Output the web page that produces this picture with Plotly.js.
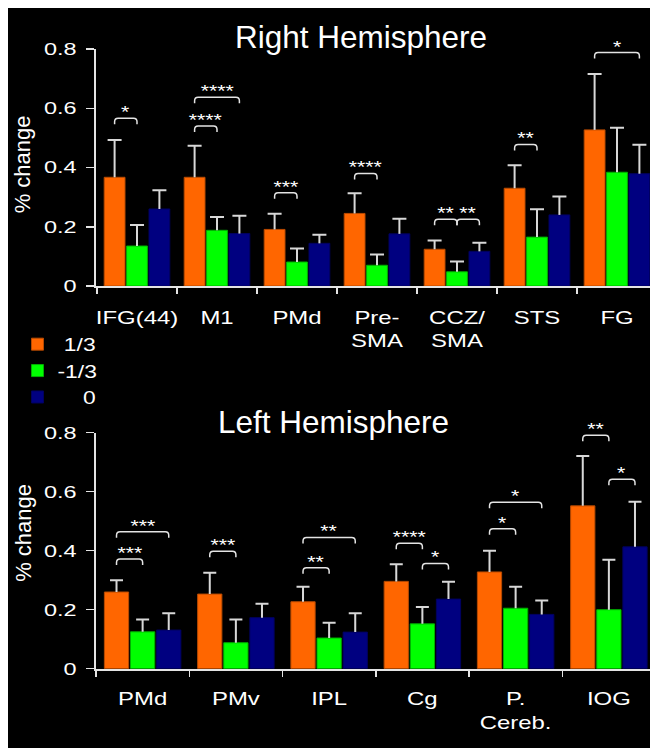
<!DOCTYPE html>
<html>
<head>
<meta charset="utf-8">
<script src="https://cdn.plot.ly/plotly-3.0.1.min.js"></script>
<style>
  html, body { margin: 0; padding: 0; background: #ffffff; }
  #plot { position: absolute; left: 8px; top: 8px; width: 642px; height: 740px; }
</style>
</head>
<body>
<div id="plot"></div>
<script>
// ---------------- data ----------------
const seriesNames = ['\u20081/3', '-1/3', '\u2007\u2008\u20080'];
const seriesColors = ['#ff6600', '#00ff00', '#000080'];
const seriesLines = ['#b84a00', '#00b000', '#000060'];

// Right hemisphere
const rightRegions = ['IFG(44)', 'M1', 'PMd', 'Pre-<br>SMA', 'CCZ/<br>SMA', 'STS', 'FG'];
const rightPos  = [0.367, 0.367, 0.191, 0.245, 0.124, 0.330, 0.527];
const rightNeg  = [0.135, 0.188, 0.081, 0.070, 0.048, 0.165, 0.384];
const rightZero = [0.260, 0.177, 0.144, 0.176, 0.117, 0.240, 0.379];
const rightPosSem  = [0.126, 0.106, 0.053, 0.068, 0.030, 0.078, 0.189];
const rightNegSem  = [0.071, 0.045, 0.046, 0.036, 0.035, 0.094, 0.150];
const rightZeroSem = [0.063, 0.060, 0.029, 0.051, 0.029, 0.062, 0.098];
// significance: [region index, from series, to series, bracket height, label]
const rightSig = [
  [0, 0, 1, 0.566, '*'],
  [1, 0, 1, 0.540, '****'],
  [1, 0, 2, 0.637, '****'],
  [2, 0, 1, 0.315, '***'],
  [3, 0, 1, 0.380, '****'],
  [4, 0, 1, 0.225, '**'],
  [4, 1, 2, 0.225, '**'],
  [5, 0, 1, 0.478, '**'],
  [6, 0, 2, 0.788, '*']
];

// Left hemisphere
const leftRegions = ['PMd', 'PMv', 'IPL', 'Cg', 'P.<br>Cereb.', 'IOG'];
const leftPos  = [0.260, 0.253, 0.227, 0.296, 0.328, 0.552];
const leftNeg  = [0.125, 0.088, 0.104, 0.152, 0.205, 0.200];
const leftZero = [0.131, 0.173, 0.124, 0.236, 0.184, 0.413];
const leftPosSem  = [0.040, 0.072, 0.051, 0.058, 0.072, 0.169];
const leftNegSem  = [0.042, 0.079, 0.052, 0.057, 0.073, 0.169];
const leftZeroSem = [0.057, 0.047, 0.064, 0.059, 0.047, 0.153];
const leftSig = [
  [0, 0, 1, 0.372, '***'],
  [0, 0, 2, 0.464, '***'],
  [1, 0, 1, 0.398, '***'],
  [2, 0, 1, 0.342, '**'],
  [2, 0, 2, 0.445, '**'],
  [3, 0, 1, 0.425, '****'],
  [3, 1, 2, 0.357, '*'],
  [4, 0, 1, 0.474, '*'],
  [4, 0, 2, 0.564, '*'],
  [5, 0, 1, 0.791, '**'],
  [5, 1, 2, 0.642, '*']
];

const yTicks = [0, 0.2, 0.4, 0.6, 0.8];
const yTickText = ['0', '0.2', '0.4', '0.6', '0.8'];

// ---------------- build ----------------
const slotCenter = [-0.28, 0, 0.28];
const barW = 0.26;
const axisCol = '#e4e4e4';
const whiskCol = '#d8d8d8';

const traces = [];
function addPanel(regions, means, sems, xa, ya, whiskW, capW, legend) {
  const xs = regions.map((_, i) => i);
  means.forEach((m, s) => {
    traces.push({
      type: 'bar', x: xs, y: m, name: seriesNames[s],
      xaxis: xa, yaxis: ya,
      width: barW, offset: slotCenter[s] - barW / 2,
      marker: { color: seriesColors[s], line: { color: seriesLines[s], width: 1 } },
      showlegend: legend, legendgroup: 'g' + s, hoverinfo: 'skip'
    });
  });
  means.forEach((m, s) => {
    traces.push({
      type: 'bar', x: xs, y: sems[s], base: m,
      xaxis: xa, yaxis: ya,
      width: whiskW, offset: slotCenter[s] - whiskW / 2,
      marker: { color: whiskCol, line: { width: 0 } },
      error_y: { type: 'constant', value: 0, width: capW, thickness: 2, color: whiskCol },
      showlegend: false, hoverinfo: 'skip'
    });
  });
}
addPanel(rightRegions, [rightPos, rightNeg, rightZero], [rightPosSem, rightNegSem, rightZeroSem], 'x', 'y', 0.025, 7, true);
addPanel(leftRegions, [leftPos, leftNeg, leftZero], [leftPosSem, leftNegSem, leftZeroSem], 'x2', 'y2', 0.0215, 6.5, false);

const shapes = [];
const annotations = [];
function addSig(list, xr, yr, pxX, pxY) {
  const d = 6 / pxY, r = 3.5 / pxY, rx = 3.5 / pxX;
  list.forEach(([c, a, b, y, lab]) => {
    const x1 = c + slotCenter[a], x2 = c + slotCenter[b];
    shapes.push({
      type: 'path', xref: xr, yref: yr,
      path: `M ${x1},${y - d} L ${x1},${y - r} Q ${x1},${y} ${x1 + rx},${y} L ${x2 - rx},${y} Q ${x2},${y} ${x2},${y - r} L ${x2},${y - d}`,
      line: { color: axisCol, width: 1.5 }
    });
    annotations.push({
      xref: xr, yref: yr, x: (x1 + x2) / 2, y: y, text: lab, showarrow: false,
      xanchor: 'center', yanchor: 'middle', yshift: 5.5,
      font: { size: 17, color: '#ffffff' }
    });
  });
}
addSig(rightSig, 'x', 'y', 80, 296.25);
addSig(leftSig, 'x2', 'y2', 93.25, 295);

annotations.push(
  { xref: 'paper', yref: 'paper', x: 0.479, y: 0.9608, text: 'Right Hemisphere', showarrow: false,
    xanchor: 'center', yanchor: 'middle', font: { size: 31.5, color: '#ffffff' } },
  { xref: 'paper', yref: 'paper', x: 0.4296, y: 0.4405, text: 'Left Hemisphere', showarrow: false,
    xanchor: 'center', yanchor: 'middle', font: { size: 31.5, color: '#ffffff' } },
  { xref: 'paper', yref: 'y', x: -0.131, y: 0.412, text: '% change', textangle: -90, showarrow: false,
    xanchor: 'center', yanchor: 'middle', font: { size: 22, color: '#ffffff' } },
  { xref: 'paper', yref: 'y2', x: -0.131, y: 0.462, text: '% change', textangle: -90, showarrow: false,
    xanchor: 'center', yanchor: 'middle', font: { size: 22, color: '#ffffff' } }
);

function xAxis(regions, range, anchor, standoff) {
  const b = regions.map((_, i) => i - 0.5).concat([regions.length - 0.5]);
  return {
    anchor: anchor, domain: [0, 1], range: range,
    tickmode: 'array', tickvals: regions.map((_, i) => i), ticktext: regions,
    ticks: '', showline: true, linecolor: axisCol, linewidth: 2,
    showgrid: false, zeroline: false, fixedrange: true,
    tickfont: { size: 18, color: '#ffffff' }, ticklabelstandoff: standoff,
    minor: { tickmode: 'array', tickvals: b, ticks: 'outside', ticklen: 6, tickwidth: 1.5, tickcolor: axisCol, showgrid: false }
  };
}
function yAxis(domain, anchor) {
  return {
    anchor: anchor, domain: domain, range: [0, 0.8],
    tickmode: 'array', tickvals: yTicks, ticktext: yTickText,
    ticks: 'outside', ticklen: 8, tickwidth: 1.5, tickcolor: axisCol,
    showline: true, linecolor: axisCol, linewidth: 2,
    showgrid: false, zeroline: false, fixedrange: true,
    tickfont: { size: 17, color: '#ffffff' }, ticklabelstandoff: 6
  };
}

const layout = {
  width: 642, height: 740,
  margin: { l: 88, r: 0, t: 0, b: 0, pad: 0 },
  paper_bgcolor: '#000000', plot_bgcolor: '#000000',
  font: { family: 'Liberation Sans, Arial, Helvetica, sans-serif', color: '#ffffff' },
  barmode: 'overlay',
  xaxis: xAxis(rightRegions, [-0.5125, 6.4125], 'y', 14),
  yaxis: yAxis([0.62432, 0.94459], 'x'),
  xaxis2: xAxis(leftRegions, [-0.5, 5.441], 'y2', 13),
  yaxis2: yAxis([0.10716, 0.42608], 'x2'),
  showlegend: true,
  legend: { x: -0.1417, xanchor: 'left', y: 0.5703, yanchor: 'top', bgcolor: 'rgba(0,0,0,0)',
            font: { size: 18, color: '#ffffff' }, traceorder: 'normal',
            itemclick: false, itemdoubleclick: false },
  shapes: shapes,
  annotations: annotations
};

function stretch(els, s) {
  els.forEach(el => {
    const bb = el.getBBox();
    const anchor = el.getAttribute('text-anchor') || 'start';
    const ax = anchor === 'middle' ? bb.x + bb.width / 2 : (anchor === 'end' ? bb.x + bb.width : bb.x);
    const t = el.getAttribute('transform') || '';
    el.setAttribute('transform', t + ' translate(' + ax + ',0) scale(' + s + ',1) translate(' + (-ax) + ',0)');
  });
}

Plotly.newPlot('plot', traces, layout, { displayModeBar: false, staticPlot: true }).then(gd => {
  stretch(gd.querySelectorAll('.ytick text, .y2tick text'), 1.38);
  stretch(gd.querySelectorAll('.xtick text, .x2tick text'), 1.33);
  stretch(gd.querySelectorAll('.legendtext'), 1.27);
  gd.querySelectorAll('.legend [clip-path], .legend').forEach(e => e.removeAttribute('clip-path'));
  const stars = Array.from(gd.querySelectorAll('.annotation-text')).filter(e => /^\*+$/.test(e.textContent));
  stretch(stars, 1.25);
});
</script>
</body>
</html>
